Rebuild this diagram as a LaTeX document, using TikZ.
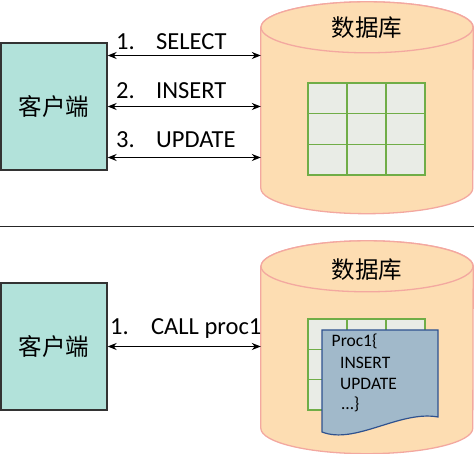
\documentclass[tikz,border=0pt]{standalone}
\usepackage{fontspec}
\setmainfont{Carlito}
\newfontfamily\cjk{Noto Sans CJK SC}
\usepackage{tikz}
\usetikzlibrary{arrows.meta, positioning}
\definecolor{clientfill}{RGB}{178,226,218}
\definecolor{dbfill}{RGB}{253,221,178}
\definecolor{dbline}{RGB}{243,168,160}
\definecolor{gridfill}{RGB}{233,236,230}
\definecolor{gridline}{RGB}{112,173,71}
\definecolor{procfill}{RGB}{161,185,202}
\definecolor{procline}{RGB}{47,82,143}

\begin{document}
\begin{tikzpicture}[x=1pt, y=1pt,
  client/.style={draw=black!80, line width=1.3pt, fill=clientfill, minimum width=106pt,
    minimum height=127pt, inner sep=0, font=\cjk\fontsize{23.5}{28}\selectfont},
  dbbody/.style={minimum width=212pt, minimum height=160.5pt, inner sep=0},
  dbshape/.style={draw=dbline, line width=1.3pt, fill=dbfill},
  dbtitle/.style={font=\cjk\fontsize{23.5}{28}\selectfont, inner sep=0},
  sql/.style={font=\fontsize{24.5}{29}\selectfont, anchor=base west, inner sep=0},
  code/.style={font=\fontsize{17.5}{21}\selectfont, anchor=base west, inner sep=0},
  link/.style={{Stealth[length=9pt, width=7pt]}-{Stealth[length=9pt, width=7pt]}, line width=1.2pt}]
  \useasboundingbox (0,0) rectangle (474,454);

  % direct SQL
  \node[client] (client1) at (54,347.5) {客户端};
  \node[dbbody] (db1) at (367,346.25) {};
  \draw[dbshape] (db1.north west) -- (db1.south west)
    arc[start angle=180, end angle=360, x radius=106pt, y radius=25.5pt]
    -- (db1.north east) arc[start angle=0, end angle=180, x radius=106pt, y radius=25.5pt] -- cycle;
  \draw[dbshape] (db1.north) ellipse[x radius=106pt, y radius=25.5pt];
  \node[dbtitle] (title1) at ([yshift=-0.5pt]db1.north) {数据库};
  \filldraw[fill=gridfill, draw=gridline, line width=1.3pt] (308,279) rectangle (425,371);
  \foreach \x in {347,386} {
    \draw[gridline, line width=1.3pt] (\x,279) -- (\x,371);
  }
  \foreach \y in {309.67,340.33} {
    \draw[gridline, line width=1.3pt] (308,\y) -- (425,\y);
  }
  \foreach \dy/\i in {51/1,0/2,-51/3} {
    \coordinate (s\i) at ([yshift=\dy pt]client1.east);
    \draw[link] (s\i) -- (s\i -| db1.west);
  }
  \node[sql] (q1) at (116,404) {\makebox[40pt][l]{1.}SELECT};
  \node[sql] (q2) at (116,355) {\makebox[40pt][l]{2.}INSERT};
  \node[sql] (q3) at (116,306) {\makebox[40pt][l]{3.}UPDATE};

  \draw[black!85, line width=1.5pt] (0,227.5) -- (474,227.5);

  % stored procedure
  \node[client] (client2) at (54,107.5) {客户端};
  \node[dbbody, minimum height=161.5pt] (db2) at (367,106.75) {};
  \draw[dbshape] (db2.north west) -- (db2.south west)
    arc[start angle=180, end angle=360, x radius=106pt, y radius=25.5pt]
    -- (db2.north east) arc[start angle=0, end angle=180, x radius=106pt, y radius=25.5pt] -- cycle;
  \draw[dbshape] (db2.north) ellipse[x radius=106pt, y radius=25.5pt];
  \node[dbtitle] (title2) at ([yshift=-3pt]db2.north) {数据库};
  \filldraw[fill=gridfill, draw=gridline, line width=1.3pt] (308,44) rectangle (425,135);
  \foreach \x in {347,386} {
    \draw[gridline, line width=1.3pt] (\x,44) -- (\x,135);
  }
  \foreach \y in {74.33,104.67} {
    \draw[gridline, line width=1.3pt] (308,\y) -- (425,\y);
  }
  \draw[procline, line width=1.2pt, fill=procfill] (322,124) -- (322,22)
    .. controls (355,9) and (400,44) .. (438,37) -- (438,124) -- cycle;
  \foreach \t/\x/\y/\i in {Proc1\{/331.5/107.5/1, INSERT/340/85/2, UPDATE/340/64.5/3, …\}/341.5/44/4} {
    \node[code] (p\i) at (\x,\y) {\t};
  }
  \draw[link] (client2.east) -- (client2.east -| db2.west);
  \node[sql] (call) at (110,119) {\makebox[41pt][l]{1.}CALL proc1};
\end{tikzpicture}
\end{document}
